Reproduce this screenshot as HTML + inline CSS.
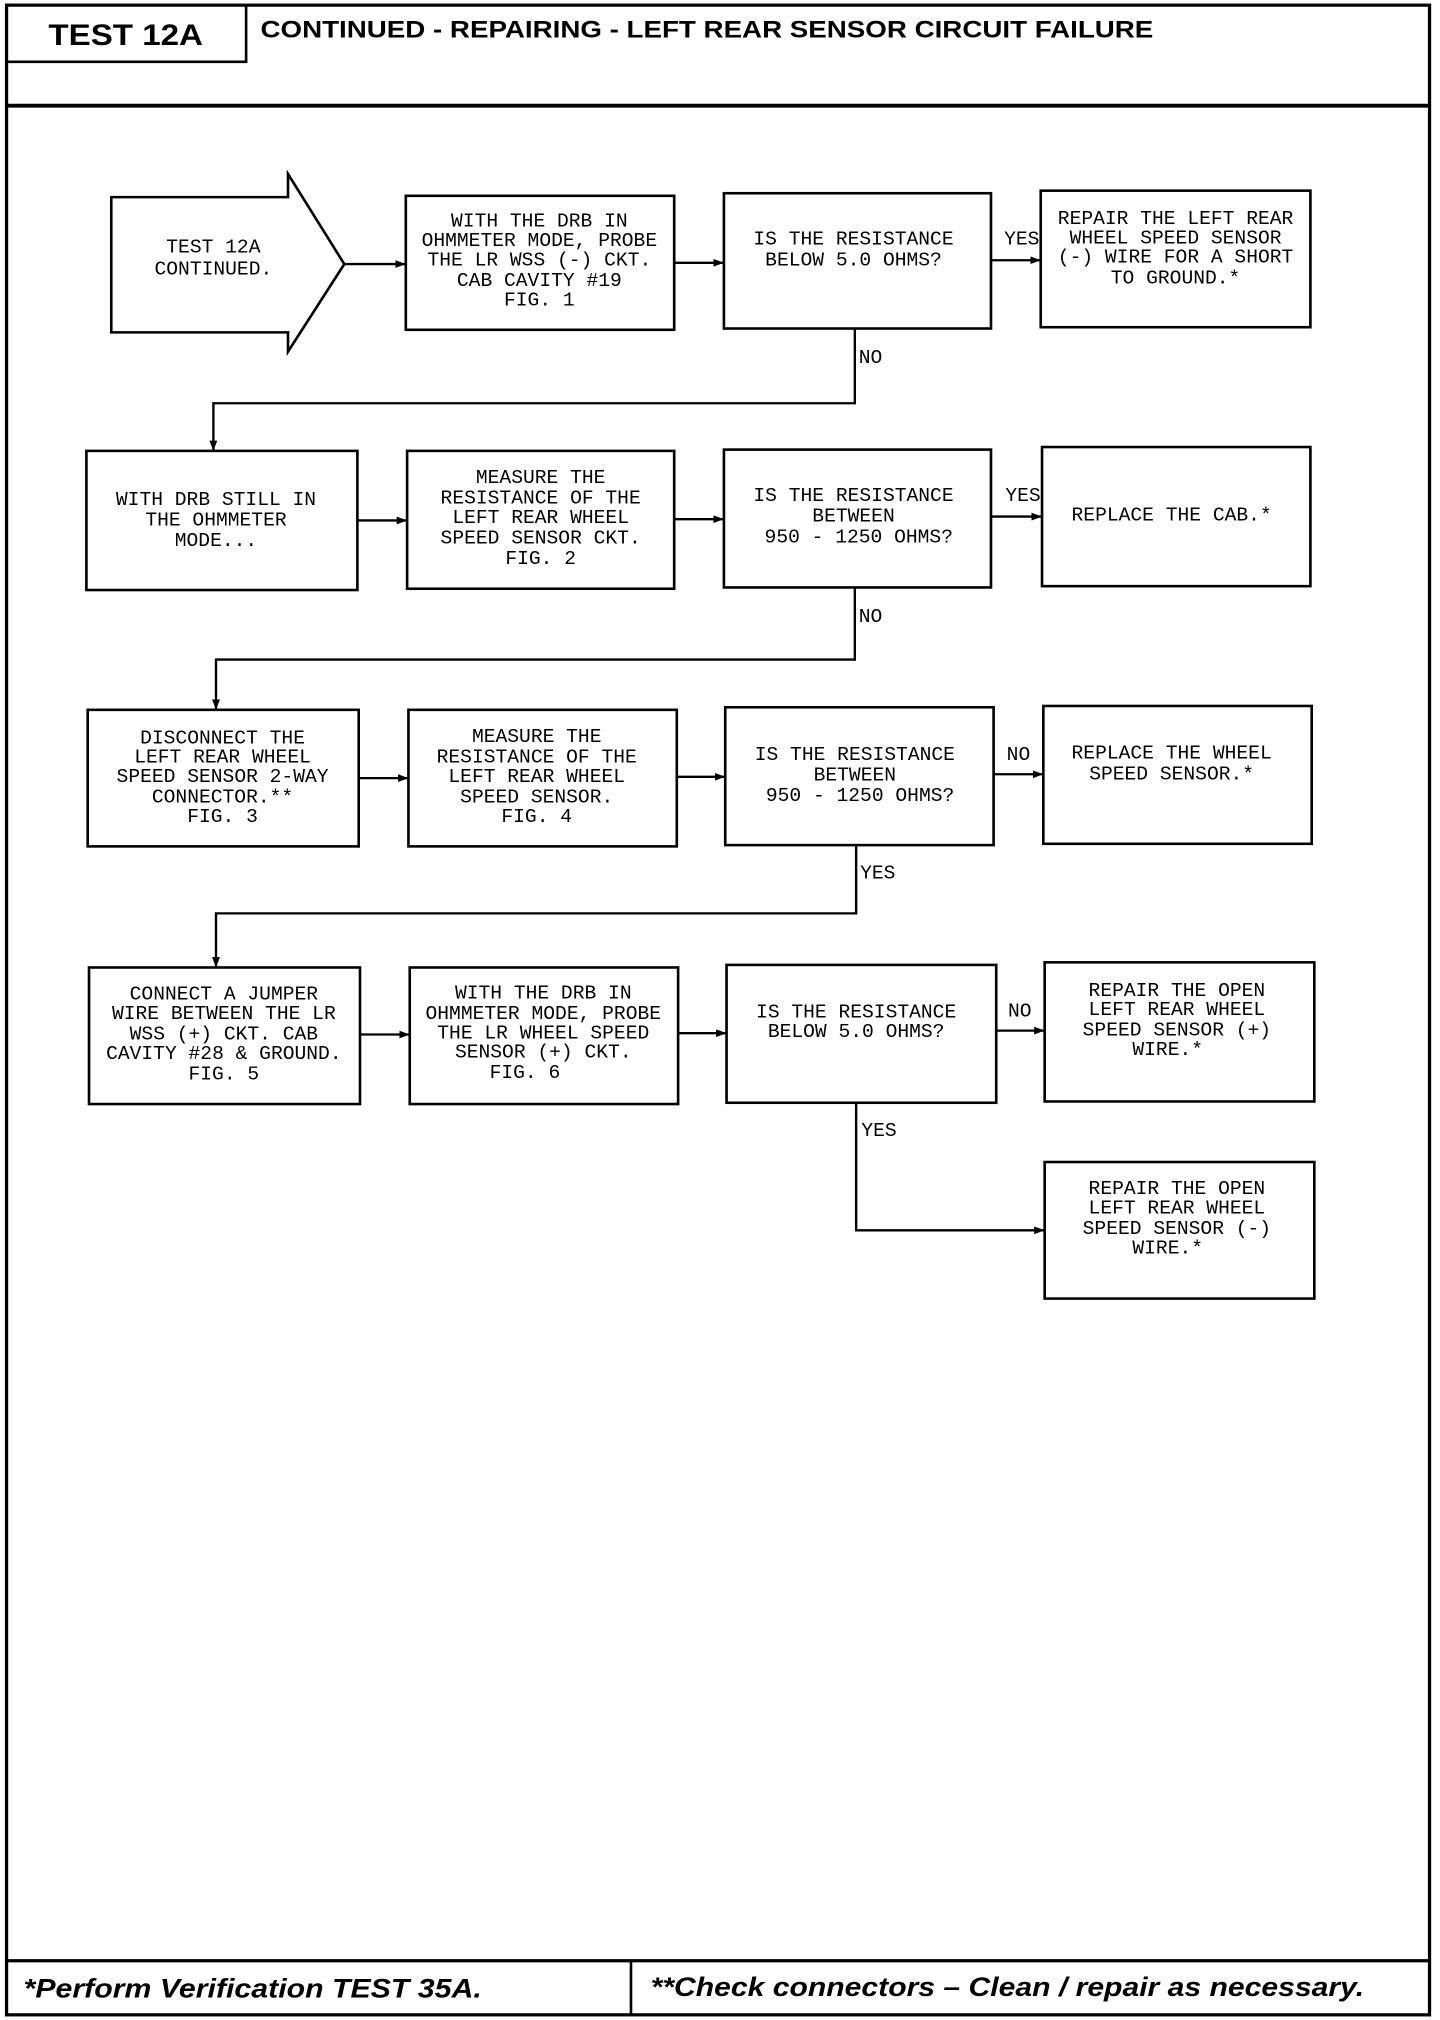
<!DOCTYPE html>
<html><head><meta charset="utf-8"><style>
html,body{margin:0;padding:0;background:#fff;}
svg{display:block;}
.t{font-family:"Liberation Mono",monospace;font-size:15px;fill:#000;text-anchor:middle;dominant-baseline:middle;}
.l{font-family:"Liberation Mono",monospace;font-size:15px;fill:#000;dominant-baseline:middle;}
</style></head><body>
<svg width="1440" height="2020" viewBox="0 0 1100 1568" preserveAspectRatio="none" xmlns="http://www.w3.org/2000/svg">
<defs><marker id="a" markerWidth="8" markerHeight="6" refX="8" refY="3" orient="auto" markerUnits="userSpaceOnUse"><path d="M0,0 L8,3 L0,6z" fill="#000"/></marker></defs>
<g fill="none" stroke="#000">
<rect x="5" y="4" width="1087" height="1560" stroke-width="2.5"/>
<polyline points="5,48 188,48 188,4" stroke-width="2"/>
<line x1="5" y1="82" x2="1092" y2="82" stroke-width="3"/>
<line x1="5" y1="1522" x2="1092" y2="1522" stroke-width="2.5"/>
<line x1="482" y1="1522" x2="482" y2="1564" stroke-width="2"/>
<g stroke-width="2">
<polygon points="85,153 220,153 220,135 263,205 220,273 220,258 85,258"/>
<rect x="310" y="152" width="205" height="104"/>
<rect x="553" y="150" width="204" height="105"/>
<rect x="795" y="148" width="206" height="106"/>
<rect x="66" y="350" width="207" height="108"/>
<rect x="311" y="350" width="204" height="107"/>
<rect x="553" y="349" width="204" height="107"/>
<rect x="796" y="347" width="205" height="108"/>
<rect x="67" y="551" width="207" height="106"/>
<rect x="312" y="551" width="205" height="106"/>
<rect x="554" y="549" width="205" height="107"/>
<rect x="797" y="548" width="205" height="107"/>
<rect x="68" y="751" width="207" height="106"/>
<rect x="313" y="751" width="205" height="106"/>
<rect x="555" y="749" width="206" height="107"/>
<rect x="798" y="747" width="206" height="108"/>
<rect x="798" y="902" width="206" height="106"/>
</g>
<g stroke-width="1.8" marker-end="url(#a)">
<line x1="263" y1="205" x2="310" y2="205"/>
<line x1="515" y1="204" x2="553" y2="204"/>
<line x1="757" y1="202" x2="795" y2="202"/>
<polyline points="653,255 653,313 163,313 163,350"/>
<line x1="273" y1="404" x2="311" y2="404"/>
<line x1="515" y1="403" x2="553" y2="403"/>
<line x1="757" y1="401" x2="796" y2="401"/>
<polyline points="653,456 653,512 165,512 165,551"/>
<line x1="274" y1="604" x2="312" y2="604"/>
<line x1="517" y1="603" x2="554" y2="603"/>
<line x1="759" y1="601" x2="797" y2="601"/>
<polyline points="654,656 654,709 165,709 165,751"/>
<line x1="275" y1="803" x2="313" y2="803"/>
<line x1="518" y1="802" x2="555" y2="802"/>
<line x1="761" y1="800" x2="798" y2="800"/>
<polyline points="654,856 654,955 798,955"/>
</g>
</g>
<text x="96" y="29" font-family="Liberation Sans,sans-serif" font-weight="bold" font-size="23" text-anchor="middle" dominant-baseline="middle" textLength="118" lengthAdjust="spacingAndGlyphs">TEST 12A</text>
<text x="199" y="24" font-family="Liberation Sans,sans-serif" font-weight="bold" font-size="19" dominant-baseline="middle" textLength="682" lengthAdjust="spacingAndGlyphs">CONTINUED - REPAIRING - LEFT REAR SENSOR CIRCUIT FAILURE</text>
<text x="18" y="1545" font-family="Liberation Sans,sans-serif" font-weight="bold" font-style="italic" font-size="21" dominant-baseline="middle" textLength="350" lengthAdjust="spacingAndGlyphs">*Perform Verification TEST 35A.</text>
<text x="497" y="1544" font-family="Liberation Sans,sans-serif" font-weight="bold" font-style="italic" font-size="21" dominant-baseline="middle" textLength="545" lengthAdjust="spacingAndGlyphs">**Check connectors – Clean / repair as necessary.</text>

<text class="t" x="163" y="192">TEST 12A</text><text class="t" x="163" y="209">CONTINUED.</text>
<text class="t" x="412" y="172">WITH THE DRB IN</text><text class="t" x="412" y="187">OHMMETER MODE, PROBE</text><text class="t" x="412" y="202">THE LR WSS (-) CKT.</text><text class="t" x="412" y="218">CAB CAVITY #19</text><text class="t" x="412" y="233">FIG. 1</text>
<text class="t" x="652" y="186">IS THE RESISTANCE</text><text class="t" x="652" y="202">BELOW 5.0 OHMS?</text>
<text class="t" x="898" y="170">REPAIR THE LEFT REAR</text><text class="t" x="898" y="185">WHEEL SPEED SENSOR</text><text class="t" x="898" y="200">(-) WIRE FOR A SHORT</text><text class="t" x="898" y="216">TO GROUND.*</text>
<text class="l" x="767" y="186">YES</text><text class="l" x="656" y="278">NO</text>

<text class="t" x="165" y="388">WITH DRB STILL IN</text><text class="t" x="165" y="404">THE OHMMETER</text><text class="t" x="165" y="420">MODE...</text>
<text class="t" x="413" y="371">MEASURE THE</text><text class="t" x="413" y="387">RESISTANCE OF THE</text><text class="t" x="413" y="402">LEFT REAR WHEEL</text><text class="t" x="413" y="418">SPEED SENSOR CKT.</text><text class="t" x="413" y="434">FIG. 2</text>
<text class="t" x="652" y="385">IS THE RESISTANCE</text><text class="t" x="652" y="401">BETWEEN</text><text class="t" x="656" y="417">950 - 1250 OHMS?</text>
<text class="t" x="895" y="400">REPLACE THE CAB.*</text>
<text class="l" x="768" y="385">YES</text><text class="l" x="656" y="479">NO</text>

<text class="t" x="170" y="573">DISCONNECT THE</text><text class="t" x="170" y="588">LEFT REAR WHEEL</text><text class="t" x="170" y="603">SPEED SENSOR 2-WAY</text><text class="t" x="170" y="619">CONNECTOR.**</text><text class="t" x="170" y="634">FIG. 3</text>
<text class="t" x="410" y="572">MEASURE THE</text><text class="t" x="410" y="588">RESISTANCE OF THE</text><text class="t" x="410" y="603">LEFT REAR WHEEL</text><text class="t" x="410" y="619">SPEED SENSOR.</text><text class="t" x="410" y="634">FIG. 4</text>
<text class="t" x="653" y="586">IS THE RESISTANCE</text><text class="t" x="653" y="602">BETWEEN</text><text class="t" x="657" y="618">950 - 1250 OHMS?</text>
<text class="t" x="895" y="585">REPLACE THE WHEEL</text><text class="t" x="895" y="601">SPEED SENSOR.*</text>
<text class="l" x="769" y="586">NO</text><text class="l" x="657" y="678">YES</text>

<text class="t" x="171" y="772">CONNECT A JUMPER</text><text class="t" x="171" y="787">WIRE BETWEEN THE LR</text><text class="t" x="171" y="803">WSS (+) CKT. CAB</text><text class="t" x="171" y="818">CAVITY #28 &amp; GROUND.</text><text class="t" x="171" y="834">FIG. 5</text>
<text class="t" x="415" y="771">WITH THE DRB IN</text><text class="t" x="415" y="787">OHMMETER MODE, PROBE</text><text class="t" x="415" y="802">THE LR WHEEL SPEED</text><text class="t" x="415" y="817">SENSOR (+) CKT.</text><text class="t" x="401" y="833">FIG. 6</text>
<text class="t" x="654" y="786">IS THE RESISTANCE</text><text class="t" x="654" y="801">BELOW 5.0 OHMS?</text>
<text class="t" x="899" y="769">REPAIR THE OPEN</text><text class="t" x="899" y="784">LEFT REAR WHEEL</text><text class="t" x="899" y="800">SPEED SENSOR (+)</text><text class="t" x="892" y="815">WIRE.*</text>
<text class="l" x="770" y="785">NO</text><text class="l" x="658" y="878">YES</text>
<text class="t" x="899" y="923">REPAIR THE OPEN</text><text class="t" x="899" y="938">LEFT REAR WHEEL</text><text class="t" x="899" y="954">SPEED SENSOR (-)</text><text class="t" x="892" y="969">WIRE.*</text>
</svg>
</body></html>
